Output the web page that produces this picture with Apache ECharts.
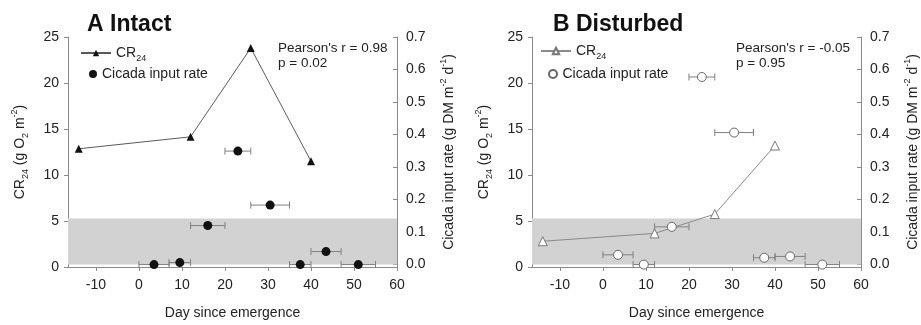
<!DOCTYPE html>
<html>
<head>
<meta charset="utf-8">
<script src="https://cdn.jsdelivr.net/npm/echarts@6/dist/echarts.min.js"></script>
<style>
  html, body { margin: 0; padding: 0; background: #fff; }
  #chart { width: 921px; height: 325px; }
</style>
</head>
<body>
<div id="chart"></div>
<script>
// day since emergence for CR24 measurements
const crDays = [-14, 12, 26, 40];
const crIntact = [12.85, 14.15, 23.8, 11.5];
const crDisturbed = [2.8, 3.65, 5.75, 13.2];

// cicada input rate (right axis), with horizontal error (days)
const cicadaDays = [3.5, 9.5, 16, 23, 30.5, 37.5, 43.5, 51];
const cicadaErr = [3.5, 2.5, 4, 3, 4.5, 2.5, 3.5, 4];
const cicadaIntact = [0.0, 0.006, 0.12, 0.349, 0.183, 0.0, 0.04, 0.0];
const cicadaDisturbed = [0.03, 0.0, 0.116, 0.577, 0.406, 0.021, 0.025, 0.0];

// shaded band on the right axis
const band = [0, 0.142];

const xTicks = [-10, 0, 10, 20, 30, 40, 50, 60];
const rightTicks = [0, 0.1, 0.2, 0.3, 0.4, 0.5, 0.6, 0.7];

const FONT = 'Liberation Sans, Arial, sans-serif';
const TXT = '#222';
const AXIS = '#8a8a8a';

const rich = {
  n: { fontSize: 14, lineHeight: 20, color: TXT, fontFamily: FONT },
  s: { fontSize: 9, lineHeight: 9, verticalAlign: 'bottom', color: TXT, fontFamily: FONT },
  p: { fontSize: 9, lineHeight: 9, verticalAlign: 'top', color: TXT, fontFamily: FONT }
};

const chart = echarts.init(document.getElementById('chart'), null, { renderer: 'canvas' });

function xAxisOpt(gridIndex) {
  return {
    type: 'value', gridIndex, min: -16.5, max: 60,
    name: 'Day since emergence', nameLocation: 'middle', nameGap: 39,
    nameTextStyle: { fontSize: 14, color: TXT, fontFamily: FONT },
    axisLine: { onZero: false, lineStyle: { color: AXIS } },
    axisTick: { inside: false, length: 4, lineStyle: { color: AXIS }, customValues: xTicks },
    axisLabel: { customValues: xTicks, fontSize: 14, color: TXT, fontFamily: FONT, margin: 11 },
    splitLine: { show: false }
  };
}

function leftAxisOpt(gridIndex) {
  return {
    type: 'value', gridIndex, min: 0, max: 25, interval: 5, position: 'left',
    name: '{n|CR}{s|24}{n| (g O}{s|2}{n| m}{p|-2}{n|)}',
    nameLocation: 'middle', nameGap: 38, nameRotate: 90,
    nameTextStyle: { rich },
    axisLine: { show: true, onZero: false, lineStyle: { color: AXIS } },
    axisTick: { show: true, length: 4, lineStyle: { color: AXIS } },
    axisLabel: { fontSize: 14, color: TXT, fontFamily: FONT, margin: 9 },
    splitLine: { show: false }
  };
}

function rightAxisOpt(gridIndex) {
  return {
    type: 'value', gridIndex, min: -0.0075, max: 0.7, position: 'right',
    name: '{n|Cicada input rate (g DM m}{p|-2}{n| d}{p|-1}{n|)}',
    nameLocation: 'middle', nameGap: 42, nameRotate: 90,
    nameTextStyle: { rich },
    axisLine: { show: true, onZero: false, lineStyle: { color: AXIS } },
    axisTick: { show: true, inside: true, length: 4, lineStyle: { color: AXIS }, customValues: rightTicks },
    axisLabel: { customValues: rightTicks, fontSize: 14, color: TXT, fontFamily: FONT, margin: 9,
      formatter: (v) => v.toFixed(1) },
    splitLine: { show: false }
  };
}

function errorBars(name, xAxisIndex, yAxisIndex, ys) {
  return {
    name, type: 'custom', xAxisIndex, yAxisIndex, z: 2,
    data: cicadaDays.map((d, i) => [d, ys[i], cicadaErr[i]]),
    encode: { x: 0, y: 1 },
    renderItem: (params, api) => {
      const x = api.value(0), y = api.value(1), e = api.value(2);
      const lo = api.coord([x - e, y]);
      const hi = api.coord([x + e, y]);
      const style = { stroke: '#808080', lineWidth: 1 };
      return {
        type: 'group',
        children: [
          { type: 'line', shape: { x1: lo[0], y1: lo[1], x2: hi[0], y2: hi[1] }, style },
          { type: 'line', shape: { x1: lo[0], y1: lo[1] - 3.5, x2: lo[0], y2: lo[1] + 3.5 }, style },
          { type: 'line', shape: { x1: hi[0], y1: hi[1] - 3.5, x2: hi[0], y2: hi[1] + 3.5 }, style }
        ]
      };
    },
    markArea: {
      silent: true,
      itemStyle: { color: '#d2d2d2' },
      data: [[{ xAxis: -16.5, yAxis: band[0] }, { xAxis: 60, yAxis: band[1] }]]
    }
  };
}

const legendText = (name) => name.indexOf('CR') >= 0 ? '{n|CR}{s|24}' : '{n|Cicada input rate}';

function legendOpt(name, left, top, itemWidth) {
  return {
    data: [name], left, top, orient: 'vertical', selectedMode: false,
    itemWidth, itemHeight: 8, padding: 0,
    formatter: legendText,
    textStyle: { rich }
  };
}

const titleStyle = { fontSize: 23, fontWeight: 'bold', color: '#111', fontFamily: FONT };
const noteStyle = { fontSize: 13.5, lineHeight: 15, fontWeight: 'normal', color: TXT, fontFamily: FONT };

chart.setOption({
  animation: false,
  title: [
    { text: 'A Intact', left: 87, top: 13, padding: 0, textStyle: titleStyle },
    { text: 'B Disturbed', left: 553, top: 13, padding: 0, textStyle: titleStyle },
    { text: "Pearson's r = 0.98\np = 0.02", left: 278, top: 41, padding: 0, textStyle: noteStyle },
    { text: "Pearson's r = -0.05\np = 0.95", left: 736, top: 41, padding: 0, textStyle: noteStyle }
  ],
  legend: [
    legendOpt('A CR24', 80, 46, 30),
    legendOpt('A Cicada', 89, 67, 8),
    legendOpt('B CR24', 540, 44, 30),
    legendOpt('B Cicada', 548, 67, 9)
  ],
  grid: [
    { left: 68, top: 37, width: 329, height: 231 },
    { left: 532, top: 37, width: 330, height: 231 }
  ],
  xAxis: [xAxisOpt(0), xAxisOpt(1)],
  yAxis: [leftAxisOpt(0), rightAxisOpt(0), leftAxisOpt(1), rightAxisOpt(1)],
  series: [
    errorBars('A err', 0, 1, cicadaIntact),
    errorBars('B err', 1, 3, cicadaDisturbed),
    {
      name: 'A CR24', type: 'line', xAxisIndex: 0, yAxisIndex: 0, z: 3,
      data: crDays.map((d, i) => [d, crIntact[i]]),
      symbol: 'triangle', symbolSize: 8,
      lineStyle: { color: '#5a5a5a', width: 1 },
      itemStyle: { color: '#111' }
    },
    {
      name: 'B CR24', type: 'line', xAxisIndex: 1, yAxisIndex: 2, z: 3,
      data: crDays.map((d, i) => [d, crDisturbed[i]]),
      symbol: 'triangle', symbolSize: 9, showAllSymbol: true,
      lineStyle: { color: '#8a8a8a', width: 1 },
      itemStyle: { color: '#fff', borderColor: '#777', borderWidth: 1 }
    },
    {
      name: 'A Cicada', type: 'scatter', xAxisIndex: 0, yAxisIndex: 1, z: 4,
      data: cicadaDays.map((d, i) => [d, cicadaIntact[i]]),
      symbol: 'circle', symbolSize: 9,
      itemStyle: { color: '#111', opacity: 1 }
    },
    {
      name: 'B Cicada', type: 'scatter', xAxisIndex: 1, yAxisIndex: 3, z: 4,
      data: cicadaDays.map((d, i) => [d, cicadaDisturbed[i]]),
      symbol: 'circle', symbolSize: 9,
      itemStyle: { color: '#fff', borderColor: '#666', borderWidth: 1, opacity: 1 }
    }
  ]
});

window.addEventListener('resize', () => chart.resize());
</script>
</body>
</html>
